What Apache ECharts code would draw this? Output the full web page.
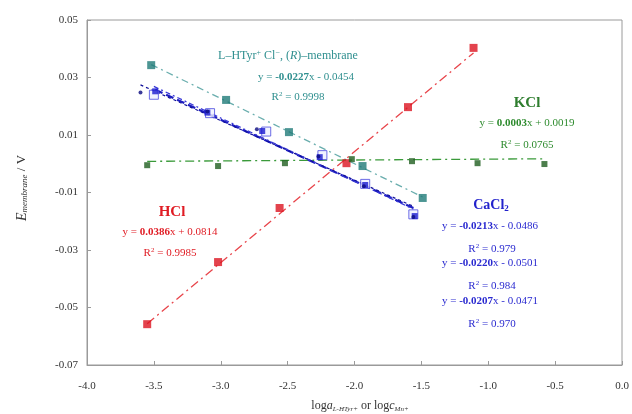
<!DOCTYPE html>
<html>
<head>
<meta charset="utf-8">
<script src="https://cdn.jsdelivr.net/npm/echarts@6/dist/echarts.min.js"></script>
<style>
  html, body { margin: 0; padding: 0; background: #fff; }
  #chart { width: 632px; height: 414px; }
</style>
</head>
<body>
<div id="chart"></div>
<script>
// measured points
const hclX = [-3.55, -3.02, -2.56, -2.06, -1.60, -1.11]
const hclY = [-0.0558, -0.0342, -0.0154, 0.0002, 0.0197, 0.0403]
const tyrX = [-3.52, -2.96, -2.49, -1.94, -1.49]
const tyrY = [0.0343, 0.0222, 0.0110, -0.0008, -0.0119]
const kclX = [-3.55, -3.02, -2.52, -2.02, -1.57, -1.08, -0.58]
const kclY = [-0.0005, -0.0008, 0.0002, 0.0016, 0.0009, 0.0002, -0.0001]
const ca1X = [-3.49, -3.10, -2.69, -2.26, -1.92, -1.55]
const ca1Y = [0.0252, 0.0178, 0.0114, 0.0023, -0.0074, -0.0182]
const ca2X = [-3.50, -3.08, -2.66, -2.24, -1.92, -1.56]
const ca2Y = [0.0240, 0.0176, 0.0112, 0.0030, -0.0070, -0.0176]
const ca3X = [-3.60, -3.10, -2.73, -2.27, -1.93, -1.56]
const ca3Y = [0.0248, 0.0182, 0.0120, 0.0025, -0.0078, -0.0185]

// linear fits [slope, intercept]
const hclFit = [0.0386, 0.0814]
const tyrFit = [-0.0227, -0.0454]
const kclFit = [0.0003, 0.0019]
const ca1Fit = [-0.0213, -0.0486]
const ca2Fit = [-0.0220, -0.0501]
const ca3Fit = [-0.0207, -0.0471]

const xTicks = [-4.0, -3.5, -3.0, -2.5, -2.0, -1.5, -1.0, -0.5, 0.0]
const yTicks = [-0.07, -0.05, -0.03, -0.01, 0.01, 0.03, 0.05]

const serif = '"Liberation Serif", "DejaVu Serif", serif'

const pts = (xs, ys) => xs.map((x, i) => [x, ys[i]])
const fitLine = (xs, fit) => {
    const lo = Math.min(...xs), hi = Math.max(...xs)
    return [[lo, fit[0] * lo + fit[1]], [hi, fit[0] * hi + fit[1]]]
}

const trend = (xs, fit, color, dash, width) => ({
    type: 'line', data: fitLine(xs, fit), symbol: 'none', silent: true,
    lineStyle: {color: color, type: dash, width: width}, z: 1
})
const scatter = (xs, ys, color, size, extra) => Object.assign({
    type: 'scatter', data: pts(xs, ys), symbol: 'rect', symbolSize: size,
    itemStyle: {color: color}, z: 3
}, extra || {})

const option = {
    animation: false,
    grid: {left: 87, top: 20, right: 10, bottom: 49, show: true, borderColor: '#9a9a9a', borderWidth: 1},
    xAxis: {
        type: 'value', min: -4, max: 0, interval: 0.5,
        axisLine: {onZero: false, lineStyle: {color: '#9a9a9a'}},
        axisTick: {inside: true, length: 4, customValues: xTicks, lineStyle: {color: '#9a9a9a'}},
        axisLabel: {fontFamily: serif, fontSize: 11, color: '#333', margin: 16,
            customValues: xTicks, formatter: v => v.toFixed(1)},
        splitLine: {show: false}
    },
    yAxis: {
        type: 'value', min: -0.07, max: 0.05,
        axisLine: {onZero: false, lineStyle: {color: '#9a9a9a'}},
        axisTick: {inside: true, length: 4, customValues: yTicks, lineStyle: {color: '#9a9a9a'}},
        axisLabel: {fontFamily: serif, fontSize: 11, color: '#333', margin: 9,
            customValues: yTicks, formatter: v => v.toFixed(2)},
        splitLine: {show: false}
    },
    series: [
        trend(hclX, hclFit, '#e8454b', [9, 4, 2, 4], 1.3),
        trend(tyrX, tyrFit, '#6aaeae', [7, 4, 2, 4], 1.3),
        trend(kclX, kclFit, '#3a9a3a', [9, 4, 2, 4], 1.3),
        trend(ca1X, ca1Fit, '#1c1cc0', [8, 4], 2.2),
        trend(ca2X, ca2Fit, '#3a3ad8', [5, 3, 2, 3], 1.3),
        trend(ca3X, ca3Fit, '#10109a', [3, 3], 1.2),
        scatter(hclX, hclY, '#dc1420', 8),
        scatter(tyrX, tyrY, '#1f7a78', 8),
        scatter(kclX, kclY, '#1f5e1f', 6),
        scatter(ca2X, ca2Y, '#ffffff', 9, {itemStyle: {color: '#eef0ff', borderColor: '#4a4ae0', borderWidth: 1}}),
        scatter(ca1X, ca1Y, '#1a1ad0', 6),
        scatter(ca3X, ca3Y, '#0a0a80', 4, {symbol: 'circle'})
    ],
    graphic: [
        {type: 'text', x: 288, y: 56, style: {
            text: '{n|L\u2013HTyr}{sup|+}{n| Cl}{sup|\u2212}{n|, (}{i|R}{n|)\u2013membrane}',
            align: 'center', verticalAlign: 'middle',
            rich: {
                n: {fontFamily: serif, fontSize: 12, fill: '#2f8f8f'},
                i: {fontFamily: serif, fontSize: 12, fill: '#2f8f8f', fontStyle: 'italic'},
                sup: {fontFamily: serif, fontSize: 8, fill: '#2f8f8f', verticalAlign: 'top', padding: [0, 0, 6, 0]}
            }}},
        {type: 'text', x: 306, y: 77, style: {
            text: '{n|y = }{b|-0.0227}{n|x - 0.0454}', align: 'center', verticalAlign: 'middle',
            rich: {n: {fontFamily: serif, fontSize: 11, fill: '#2f8f8f'},
                   b: {fontFamily: serif, fontSize: 11, fill: '#2f8f8f', fontWeight: 'bold'}}}},
        {type: 'text', x: 298, y: 97, style: {
            text: '{n|R}{sup|2}{n| = 0.9998}', align: 'center', verticalAlign: 'middle',
            rich: {n: {fontFamily: serif, fontSize: 11, fill: '#2f8f8f'},
                   sup: {fontFamily: serif, fontSize: 7, fill: '#2f8f8f', padding: [0, 0, 6, 0]}}}},

        {type: 'text', x: 527, y: 103, style: {text: 'KCl', align: 'center', verticalAlign: 'middle',
            fontFamily: serif, fontSize: 15, fontWeight: 'bold', fill: '#2e7d2e'}},
        {type: 'text', x: 527, y: 123, style: {
            text: '{n|y = }{b|0.0003}{n|x + 0.0019}', align: 'center', verticalAlign: 'middle',
            rich: {n: {fontFamily: serif, fontSize: 11, fill: '#2e8b2e'},
                   b: {fontFamily: serif, fontSize: 11, fill: '#2e8b2e', fontWeight: 'bold'}}}},
        {type: 'text', x: 527, y: 145, style: {
            text: '{n|R}{sup|2}{n| = 0.0765}', align: 'center', verticalAlign: 'middle',
            rich: {n: {fontFamily: serif, fontSize: 11, fill: '#2e8b2e'},
                   sup: {fontFamily: serif, fontSize: 7, fill: '#2e8b2e', padding: [0, 0, 6, 0]}}}},

        {type: 'text', x: 172, y: 212, style: {text: 'HCl', align: 'center', verticalAlign: 'middle',
            fontFamily: serif, fontSize: 15, fontWeight: 'bold', fill: '#e01c24'}},
        {type: 'text', x: 170, y: 232, style: {
            text: '{n|y = }{b|0.0386}{n|x + 0.0814}', align: 'center', verticalAlign: 'middle',
            rich: {n: {fontFamily: serif, fontSize: 11, fill: '#e01c24'},
                   b: {fontFamily: serif, fontSize: 11, fill: '#e01c24', fontWeight: 'bold'}}}},
        {type: 'text', x: 170, y: 253, style: {
            text: '{n|R}{sup|2}{n| = 0.9985}', align: 'center', verticalAlign: 'middle',
            rich: {n: {fontFamily: serif, fontSize: 11, fill: '#e01c24'},
                   sup: {fontFamily: serif, fontSize: 7, fill: '#e01c24', padding: [0, 0, 6, 0]}}}},

        {type: 'text', x: 491, y: 205, style: {
            text: '{n|CaCl}{sub|2}', align: 'center', verticalAlign: 'middle',
            rich: {n: {fontFamily: serif, fontSize: 14, fontWeight: 'bold', fill: '#2222cc'},
                   sub: {fontFamily: serif, fontSize: 9, fontWeight: 'bold', fill: '#2222cc', padding: [8, 0, 0, 0]}}}},
        ...[['-0.0213', '0.0486', '0.979', 226], ['-0.0220', '0.0501', '0.984', 263], ['-0.0207', '0.0471', '0.970', 301]]
            .flatMap(r => [
                {type: 'text', x: 490, y: r[3], style: {
                    text: '{n|y = }{b|' + r[0] + '}{n|x - ' + r[1] + '}', align: 'center', verticalAlign: 'middle',
                    rich: {n: {fontFamily: serif, fontSize: 11, fill: '#2a2ad0'},
                           b: {fontFamily: serif, fontSize: 11, fill: '#2a2ad0', fontWeight: 'bold'}}}},
                {type: 'text', x: 492, y: r[3] + 23, style: {
                    text: '{n|R}{sup|2}{n| = ' + r[2] + '}', align: 'center', verticalAlign: 'middle',
                    rich: {n: {fontFamily: serif, fontSize: 11, fill: '#2a2ad0'},
                           sup: {fontFamily: serif, fontSize: 7, fill: '#2a2ad0', padding: [0, 0, 6, 0]}}}}
            ]),

        {type: 'text', x: 22, y: 188, rotation: Math.PI / 2, style: {
            text: '{i|E}{sub|membrane}{n| / V}', align: 'center', verticalAlign: 'middle',
            rich: {i: {fontFamily: serif, fontSize: 14, fontStyle: 'italic', fill: '#333'},
                   sub: {fontFamily: serif, fontSize: 9, fontStyle: 'italic', fill: '#333', padding: [6, 0, 0, 0]},
                   n: {fontFamily: serif, fontSize: 13, fill: '#333'}}}},
        {type: 'text', x: 360, y: 406, style: {
            text: '{n|log}{i|a}{sub|L-HTyr+}{n| or log}{i|c}{sub|Mn+}', align: 'center', verticalAlign: 'middle',
            rich: {n: {fontFamily: serif, fontSize: 12, fill: '#333'},
                   i: {fontFamily: serif, fontSize: 12, fontStyle: 'italic', fill: '#333'},
                   sub: {fontFamily: serif, fontSize: 7, fontStyle: 'italic', fill: '#333', padding: [6, 0, 0, 0]}}}}
    ]
}

echarts.init(document.getElementById('chart')).setOption(option)
</script>
</body>
</html>
